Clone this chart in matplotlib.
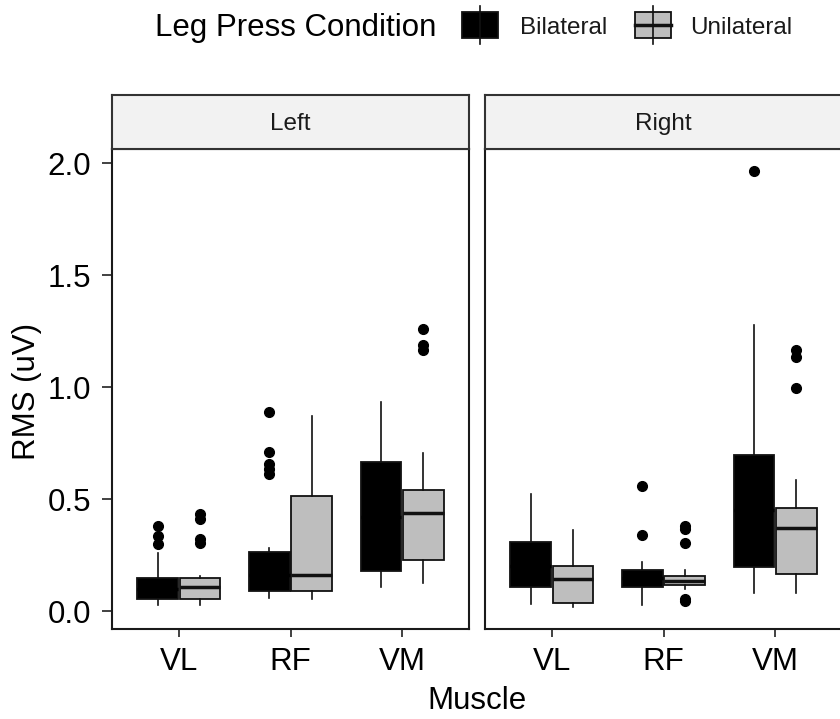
import matplotlib
matplotlib.use("Agg")
import matplotlib.pyplot as plt
from matplotlib.patches import Rectangle

plt.rcParams['font.family'] = ['Liberation Sans', 'DejaVu Sans']

# data (RMS, uV)
muscles = ["VL", "RF", "VM"]
sides = ["Left", "Right"]
conditions = ["Bilateral", "Unilateral"]
fills = {"Bilateral": "black", "Unilateral": "#BEBEBE"}

# (whislo, q1, med, q3, whishi)
left_bilateral = [(0.025, 0.052, 0.10, 0.149, 0.26),
                  (0.06, 0.09, 0.16, 0.264, 0.28),
                  (0.107, 0.179, 0.42, 0.667, 0.936)]
left_bilateral_out = [[0.30, 0.336, 0.38],
                      [0.612, 0.635, 0.657, 0.712, 0.891],
                      []]
left_unilateral = [(0.025, 0.052, 0.107, 0.149, 0.155),
                   (0.052, 0.09, 0.16, 0.512, 0.873),
                   (0.124, 0.227, 0.437, 0.54, 0.704)]
left_unilateral_out = [[0.306, 0.32, 0.41, 0.433],
                       [],
                       [1.164, 1.187, 1.258]]
right_bilateral = [(0.033, 0.107, 0.20, 0.309, 0.525),
                   (0.025, 0.107, 0.15, 0.182, 0.219),
                   (0.079, 0.197, 0.45, 0.695, 1.276)]
right_bilateral_out = [[],
                       [0.342, 0.557],
                       [1.966]]
right_unilateral = [(0.018, 0.036, 0.142, 0.20, 0.363),
                    (0.097, 0.116, 0.136, 0.155, 0.182),
                    (0.079, 0.164, 0.373, 0.46, 0.585)]
right_unilateral_out = [[],
                        [0.045, 0.052, 0.306, 0.366, 0.38],
                        [0.997, 1.134, 1.164]]

data = {
    ("Left", "Bilateral"): (left_bilateral, left_bilateral_out),
    ("Left", "Unilateral"): (left_unilateral, left_unilateral_out),
    ("Right", "Bilateral"): (right_bilateral, right_bilateral_out),
    ("Right", "Unilateral"): (right_unilateral, right_unilateral_out),
}

W, H = 840, 719
fig = plt.figure(figsize=(W / 100, H / 100), dpi=100)

def fx(px):
    return px / W

def fy(py):
    return 1 - py / H

big = 22.5
small = 17.5
dodge = [-0.19, 0.19]
panel_x = [112, 485]
panel_w = 357
top, bottom, strip_top = 149, 629, 95
line = "#111111"

for p, side in enumerate(sides):
    ax = fig.add_axes([fx(panel_x[p]), fy(bottom), fx(panel_w), (bottom - top) / H])
    for c, cond in enumerate(conditions):
        five, outs = data[(side, cond)]
        stats = []
        for (lo, q1, med, q3, hi), fl in zip(five, outs):
            stats.append(dict(whislo=lo, q1=q1, med=med, q3=q3, whishi=hi, fliers=fl))
        pos = [i + 1 + dodge[c] for i in range(len(muscles))]
        ax.bxp(stats, positions=pos, widths=0.365, patch_artist=True, showcaps=False,
               boxprops=dict(facecolor=fills[cond], edgecolor=line, linewidth=1.3),
               medianprops=dict(color="black" if cond == "Bilateral" else line, linewidth=2.5),
               whiskerprops=dict(color=line, linewidth=1.2),
               flierprops=dict(marker="o", markerfacecolor="black", markeredgecolor="black",
                               markersize=7, linestyle="none"))
    ax.set_xlim(0.4, 3.6)
    ax.set_ylim(-0.08, 2.064)
    ax.set_xticks([1, 2, 3])
    ax.set_xticklabels(muscles)
    ax.set_yticks([0, 0.5, 1.0, 1.5, 2.0])
    ax.tick_params(axis="x", length=6, width=1.3, labelsize=big, pad=7, color="#333333")
    if p == 0:
        ax.set_yticklabels(["0.0", "0.5", "1.0", "1.5", "2.0"])
        ax.tick_params(axis="y", length=7, width=1.3, labelsize=big, pad=8, color="#333333")
    else:
        ax.tick_params(axis="y", left=False, labelleft=False)
    for s in ax.spines.values():
        s.set_linewidth(1.5)
        s.set_color("#1a1a1a")

    sax = fig.add_axes([fx(panel_x[p]), fy(top), fx(panel_w), (top - strip_top) / H])
    sax.set_facecolor("#F2F2F2")
    sax.set_xticks([])
    sax.set_yticks([])
    for s in sax.spines.values():
        s.set_linewidth(1.5)
        s.set_color("#333333")
    sax.text(0.5, 0.46, side, ha="center", va="center", fontsize=small, color="#1a1a1a",
             transform=sax.transAxes)

fig.text(fx((panel_x[0] + panel_x[1] + panel_w) / 2), fy(701), "Muscle",
         ha="center", va="center", fontsize=big)
fig.text(fx(27), fy(391), "RMS (uV)", ha="center", va="center", rotation=90, fontsize=big)

# legend along the top
lax = fig.add_axes([0, 0, 1, 1], zorder=-1)
lax.set_xlim(0, W)
lax.set_ylim(H, 0)
lax.axis("off")
lax.text(155, 28, "Leg Press Condition", ha="left", va="center", fontsize=big)
keys = [(462, "Bilateral", 520), (635, "Unilateral", 690)]
for (kx, label, tx), cond in zip(keys, conditions):
    lax.plot([kx + 18, kx + 18], [6, 44], color=line, lw=1.2)
    lax.add_patch(Rectangle((kx, 12), 36, 26, facecolor=fills[cond], edgecolor=line, lw=1.3))
    if cond == "Unilateral":
        lax.plot([kx, kx + 36], [25, 25], color=line, lw=2.5)
    lax.text(tx, 28, label, ha="left", va="center", fontsize=small, color="#1a1a1a")

fig.savefig("out.png", dpi=100)
